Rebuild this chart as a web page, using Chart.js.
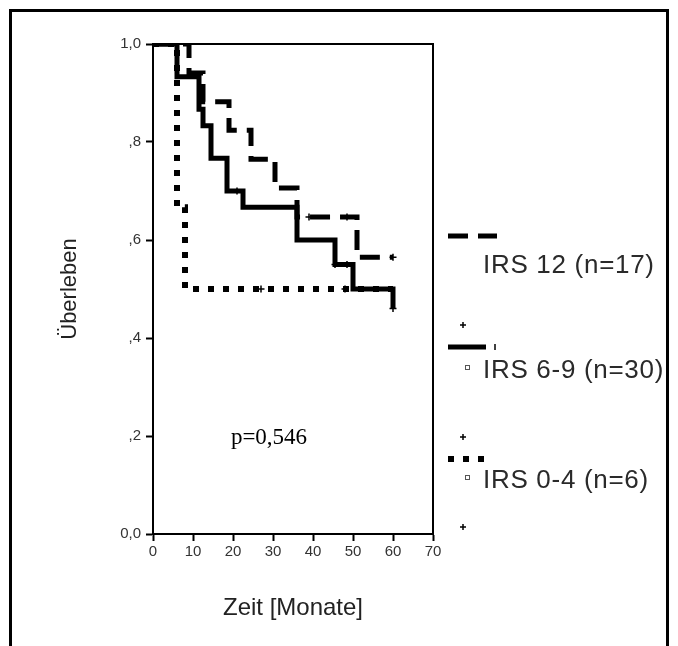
<!DOCTYPE html>
<html>
<head>
<meta charset="utf-8">
<script src="https://cdn.jsdelivr.net/npm/chart.js@4.4.1/dist/chart.umd.min.js"></script>
<style>
  body { margin: 0; background: #fff; }
  canvas { display: block; }
</style>
</head>
<body>
<canvas id="kmChart" width="678" height="646"></canvas>
<script>
// Kaplan-Meier steps (time in months, survival fraction)
const irs12Months = [0, 9, 12.5, 19, 24.5, 30.5, 36, 51, 60];
const irs12Surv   = [1, 0.941, 0.882, 0.824, 0.765, 0.706, 0.647, 0.565, 0.565];
const irs69Months = [0, 6, 11.5, 12.5, 14.5, 18.5, 22.5, 36, 45.5, 50, 60];
const irs69Surv   = [1, 0.933, 0.867, 0.833, 0.767, 0.7, 0.667, 0.6, 0.55, 0.5, 0.46];
const irs04Months = [0, 6, 8, 60];
const irs04Surv   = [1, 0.667, 0.5, 0.5];

// censored cases
const irs12CensMonths = [39, 48.5, 60];
const irs12CensSurv   = [0.647, 0.647, 0.565];
const irs69CensMonths = [21, 45.5, 48.5, 60];
const irs69CensSurv   = [0.7, 0.55, 0.55, 0.46];
const irs04CensMonths = [27, 48];
const irs04CensSurv   = [0.5, 0.5];

const groupLabels = ["IRS 12 (n=17)", "IRS 6-9 (n=30)", "IRS 0-4 (n=6)"];
const xTicks = [0, 10, 20, 30, 40, 50, 60, 70];
const yTickLabels = ["0,0", ",2", ",4", ",6", ",8", "1,0"];
const pText = "p=0,546";

function toPoints(xs, ys) {
    let pts = [];
    for (let i = 0; i < xs.length; i++) {
        pts.push({x: xs[i], y: ys[i]});
    }
    return pts;
}

function stepSet(label, xs, ys, dash, width) {
    return {
        label: label,
        data: toPoints(xs, ys),
        stepped: true,
        borderColor: '#000',
        borderWidth: width,
        borderDash: dash,
        borderCapStyle: 'butt',
        borderJoinStyle: 'miter',
        pointRadius: 0,
        fill: false
    };
}

function censSet(xs, ys) {
    return {
        label: 'censored',
        data: toPoints(xs, ys),
        showLine: false,
        pointStyle: 'cross',
        pointRadius: 3.5,
        pointBorderWidth: 1.5,
        pointBorderColor: '#000',
        pointBackgroundColor: '#000'
    };
}

function drawCross(ctx, x, y) {
    ctx.beginPath();
    ctx.moveTo(x - 3, y); ctx.lineTo(x + 3, y);
    ctx.moveTo(x, y - 3); ctx.lineTo(x, y + 3);
    ctx.stroke();
}

const boxPlugin = {
    id: 'boxPlugin',
    beforeDatasetsDraw(chart) {
        const ctx = chart.ctx, a = chart.chartArea;
        ctx.save();
        ctx.strokeStyle = '#000';
        ctx.lineWidth = 2;
        ctx.strokeRect(a.left, a.top, a.right - a.left, a.bottom - a.top);
        // outer frame of the figure
        ctx.lineWidth = 3;
        ctx.beginPath();
        ctx.moveTo(10.5, 646);
        ctx.lineTo(10.5, 10.5);
        ctx.lineTo(667.5, 10.5);
        ctx.lineTo(667.5, 646);
        ctx.stroke();
        ctx.restore();
    },
    afterDraw(chart) {
        const ctx = chart.ctx, a = chart.chartArea;
        const ds = chart.data.datasets;
        ctx.save();
        // p value
        ctx.fillStyle = '#000';
        ctx.font = '23px "Liberation Serif"';
        ctx.textAlign = 'center';
        ctx.textBaseline = 'middle';
        ctx.fillText(pText, a.left + 116, 438);

        // legend
        const lx = a.right + 15;
        const sampleY = [236, 347, 459];
        const textY = [273, 378, 488];
        const crossY = [325, 437, 527];
        ctx.textAlign = 'left';
        ctx.textBaseline = 'alphabetic';
        ctx.font = '26px "Liberation Sans"';
        ctx.letterSpacing = '0.7px';
        for (let i = 0; i < 3; i++) {
            const d = ds[i];
            ctx.strokeStyle = '#000';
            ctx.lineWidth = d.borderWidth;
            ctx.lineCap = 'butt';
            ctx.setLineDash(d.borderDash);
            ctx.beginPath();
            ctx.moveTo(lx, sampleY[i]);
            ctx.lineTo(lx + (i == 0 ? 49 : 38), sampleY[i]);
            ctx.stroke();
            ctx.setLineDash([]);
            ctx.lineWidth = 1.5;
            if (i == 1) {
                ctx.beginPath();
                ctx.moveTo(lx + 47, sampleY[i] - 3);
                ctx.lineTo(lx + 47, sampleY[i] + 3);
                ctx.stroke();
            }
            if (i > 0) {
                ctx.lineWidth = 1;
                ctx.strokeStyle = '#555';
                ctx.strokeRect(lx + 17.5, textY[i] - 12.5, 4, 4);
            }
            ctx.fillStyle = '#2a2a2a';
            ctx.fillText(groupLabels[i], lx + 35, textY[i]);
            ctx.strokeStyle = '#000';
            ctx.lineWidth = 1.5;
            drawCross(ctx, lx + 15, crossY[i]);
        }
        ctx.restore();
    }
};

new Chart(document.getElementById('kmChart'), {
    type: 'line',
    data: {
        datasets: [
            stepSet(groupLabels[0], irs12Months, irs12Surv, [20, 10], 5),
            stepSet(groupLabels[1], irs69Months, irs69Surv, [], 5),
            stepSet(groupLabels[2], irs04Months, irs04Surv, [6, 9], 6),
            censSet(irs12CensMonths, irs12CensSurv),
            censSet(irs69CensMonths, irs69CensSurv),
            censSet(irs04CensMonths, irs04CensSurv)
        ]
    },
    options: {
        responsive: false,
        animation: false,
        devicePixelRatio: 1,
        layout: { padding: { top: 44, right: 245, left: 0, bottom: 0 } },
        plugins: {
            legend: { display: false },
            tooltip: { enabled: false }
        },
        scales: {
            x: {
                type: 'linear',
                min: 0,
                max: 70,
                afterBuildTicks: (axis) => { axis.ticks = xTicks.map(v => ({value: v})); },
                afterFit: (axis) => { axis.height = 112; },
                ticks: {
                    color: '#333',
                    font: { family: 'Liberation Sans', size: 15 },
                    padding: 2,
                    maxRotation: 0
                },
                grid: { drawOnChartArea: false, tickLength: 7, tickColor: '#000', tickWidth: 2 },
                border: { color: '#000', width: 2 },
                title: {
                    display: true,
                    text: 'Zeit [Monate]',
                    color: '#222',
                    font: { family: 'Liberation Sans', size: 24 },
                    padding: { top: 0, bottom: 23 }
                }
            },
            y: {
                min: 0,
                max: 1,
                ticks: {
                    stepSize: 0.2,
                    color: '#333',
                    font: { family: 'Liberation Sans', size: 15 },
                    padding: 5,
                    callback: (v) => yTickLabels[Math.round(v * 5)]
                },
                afterFit: (axis) => { axis.width = 153; },
                grid: { drawOnChartArea: false, tickLength: 7, tickColor: '#000', tickWidth: 2 },
                border: { color: '#000', width: 2 },
                title: {
                    display: true,
                    text: 'Überleben',
                    color: '#222',
                    font: { family: 'Liberation Sans', size: 22 },
                    padding: { top: 57, bottom: 0 }
                }
            }
        }
    },
    plugins: [boxPlugin]
});
</script>
</body>
</html>
